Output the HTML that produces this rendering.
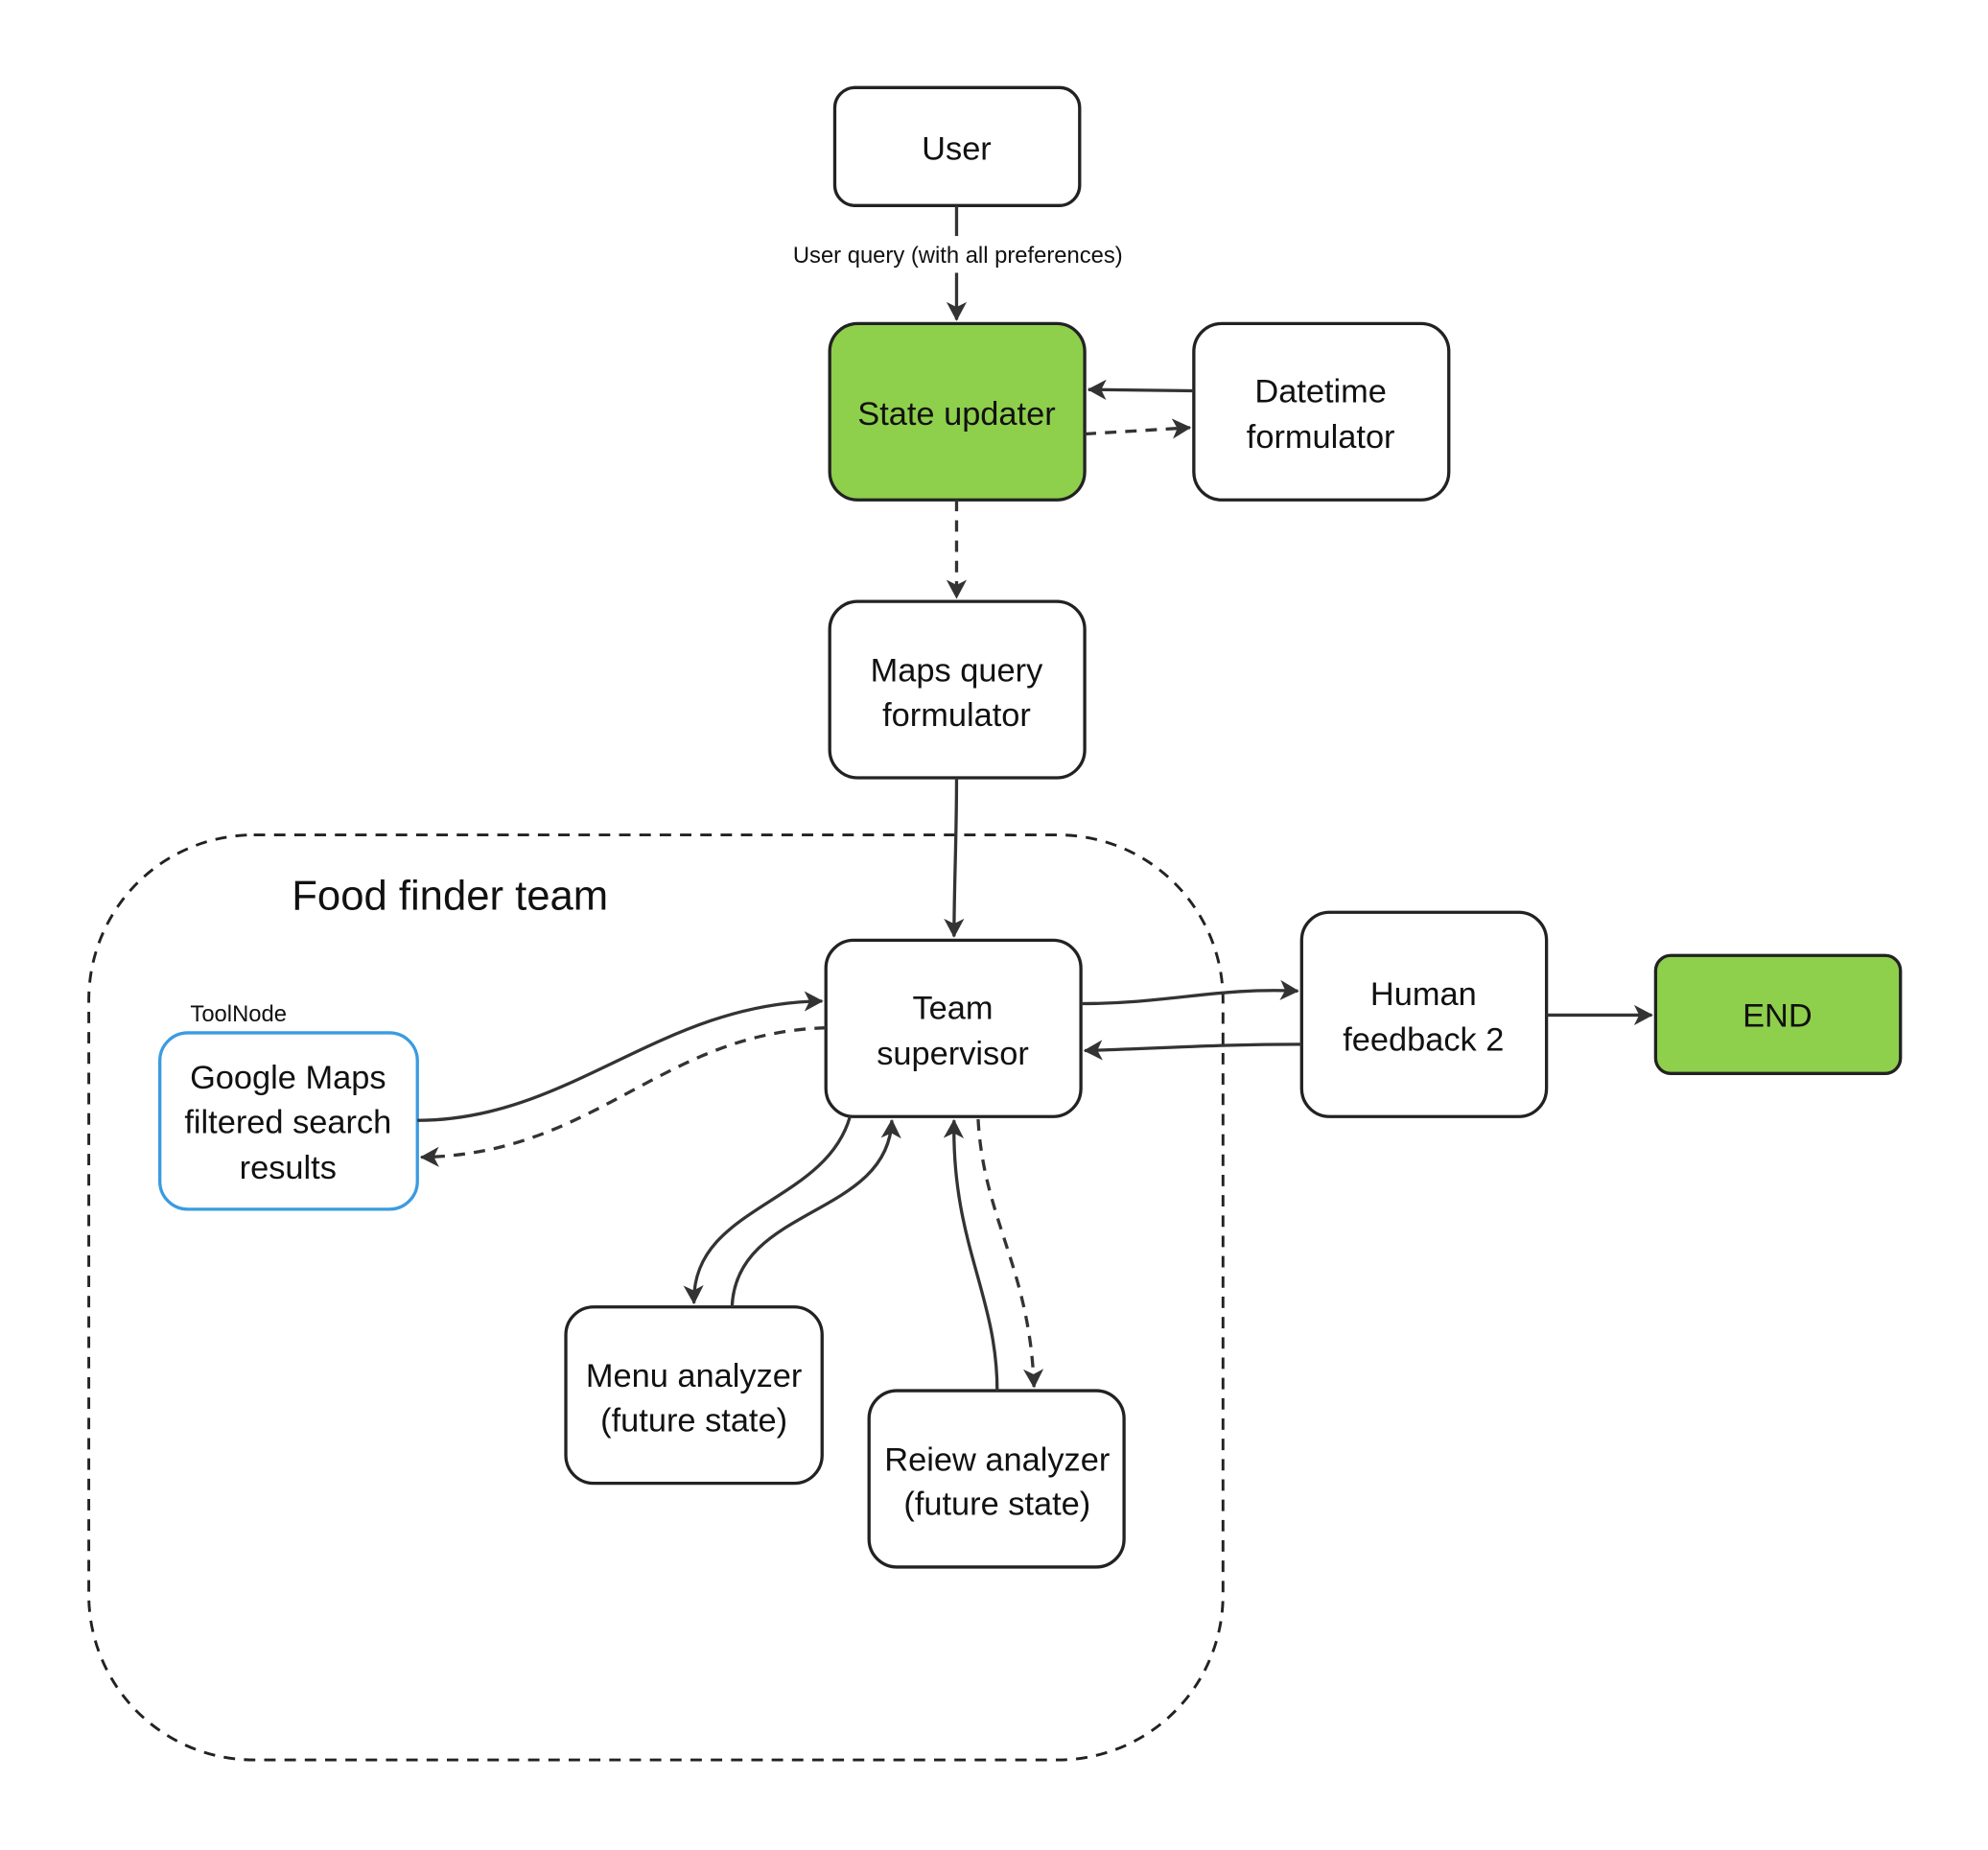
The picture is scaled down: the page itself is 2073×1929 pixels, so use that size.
<!DOCTYPE html>
<html><head><meta charset="utf-8"><style>
html,body{margin:0;padding:0;background:#fff;}
svg{display:block;}
text{font-family:"Liberation Sans",sans-serif;fill:#111;}
</style></head><body>
<svg width="2073" height="1929" viewBox="0 0 1567 1458" preserveAspectRatio="none" xmlns="http://www.w3.org/2000/svg">
<defs>
<marker id="a" viewBox="0 0 16 16" refX="14" refY="8" markerWidth="16" markerHeight="16" markerUnits="userSpaceOnUse" orient="auto">
<path d="M0,0 L15,8 L0,16 L4,8 Z" fill="#333"/>
</marker>
</defs>
<rect width="1567" height="1458" fill="#fff"/>
<rect x="70" y="658" width="894" height="729" rx="130" fill="none" stroke="#222" stroke-width="2.2" stroke-dasharray="9,7"/>
<text x="230" y="717" font-size="33">Food finder team</text>

<g stroke="#222" stroke-width="2.5">
<rect x="658" y="69" width="193" height="93" rx="16" fill="#fff"/>
<rect x="654" y="255" width="201" height="139" rx="22" fill="#8ecf4c"/>
<rect x="941" y="255" width="201" height="139" rx="22" fill="#fff"/>
<rect x="654" y="474" width="201" height="139" rx="22" fill="#fff"/>
<rect x="651" y="741" width="201" height="139" rx="22" fill="#fff"/>
<rect x="1026" y="719" width="193" height="161" rx="22" fill="#fff"/>
<rect x="1305" y="753" width="193" height="93" rx="12" fill="#8ecf4c"/>
<rect x="446" y="1030" width="202" height="139" rx="22" fill="#fff"/>
<rect x="685" y="1096" width="201" height="139" rx="22" fill="#fff"/>
<rect x="126" y="814" width="203" height="139" rx="22" fill="#fff" stroke="#3b9be0"/>
</g>

<g stroke="#333" stroke-width="2.5" fill="none">
<line x1="754" y1="162" x2="754" y2="186"/>
<line x1="754" y1="215" x2="754" y2="252" marker-end="url(#a)"/>
<path d="M941,308 L858,307" marker-end="url(#a)"/>
<path d="M855,342 L938,337" stroke-dasharray="9,7" marker-end="url(#a)"/>
<path d="M754,394 L754,471" stroke-dasharray="9,7" marker-end="url(#a)"/>
<path d="M754,613 C754,660 752,700 752,738" marker-end="url(#a)"/>
<path d="M852,791 C920,791 960,778 1023,781" marker-end="url(#a)"/>
<path d="M1026,823 C960,823 920,826 855,828" marker-end="url(#a)"/>
<path d="M1219,800 L1302,800" marker-end="url(#a)"/>
<path d="M329,883 C450,883 520,790 648,789" marker-end="url(#a)"/>
<path d="M651,810 C520,814 470,910 332,912" stroke-dasharray="9,7" marker-end="url(#a)"/>
<path d="M670,880 C650,950 545,950 547,1027" marker-end="url(#a)"/>
<path d="M577,1030 C580,950 700,960 703,883" marker-end="url(#a)"/>
<path d="M786,1096 C786,1020 750,980 752,883" marker-end="url(#a)"/>
<path d="M771,882 C775,960 812,1000 815,1093" stroke-dasharray="9,7" marker-end="url(#a)"/>
</g>

<rect x="606" y="188" width="298" height="24" fill="#fff"/>
<text x="755" y="207" font-size="18" text-anchor="middle" fill="#333">User query (with all preferences)</text>
<text x="150" y="805" font-size="18">ToolNode</text>

<g font-size="26" text-anchor="middle">
<text x="754" y="126">User</text>
<text x="754" y="335">State updater</text>
<text x="1041" y="317">Datetime</text>
<text x="1041" y="353">formulator</text>
<text x="754" y="537">Maps query</text>
<text x="754" y="572">formulator</text>
<text x="751" y="803">Team</text>
<text x="751" y="839">supervisor</text>
<text x="1122" y="792">Human</text>
<text x="1122" y="828">feedback 2</text>
<text x="1401" y="809">END</text>
<text x="227" y="858">Google Maps</text>
<text x="227" y="893">filtered search</text>
<text x="227" y="929">results</text>
<text x="547" y="1093">Menu analyzer</text>
<text x="547" y="1128">(future state)</text>
<text x="786" y="1159">Reiew analyzer</text>
<text x="786" y="1194">(future state)</text>
</g>
</svg>
</body></html>
